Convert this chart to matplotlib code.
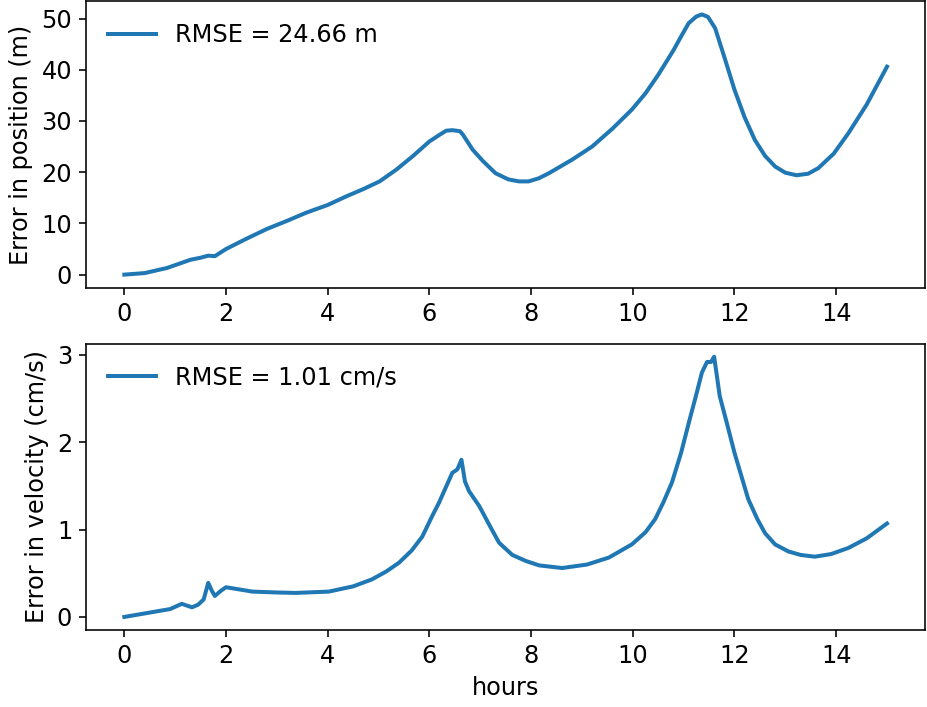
import matplotlib
matplotlib.use("Agg")
import matplotlib.pyplot as plt
import numpy as np

# position error (m) vs time (hours)
t_pos = [0.0, 0.4, 0.84, 1.1, 1.3, 1.5, 1.65, 1.78, 2.0, 2.4, 2.8, 3.2, 3.58, 4.0,
         4.37, 4.7, 5.02, 5.35, 5.67, 6.0, 6.2, 6.33, 6.45, 6.53, 6.6, 6.66, 6.85,
         7.05, 7.3, 7.55, 7.76, 7.95, 8.15, 8.35, 8.8, 9.2, 9.6, 9.98, 10.25, 10.5,
         10.8, 10.95, 11.1, 11.25, 11.36, 11.48, 11.62, 11.8, 12.0, 12.2, 12.4, 12.6,
         12.8, 13.0, 13.22, 13.45, 13.65, 13.95, 14.24, 14.6, 15.0]
err_pos = [0.0, 0.3, 1.3, 2.2, 2.9, 3.3, 3.7, 3.6, 5.0, 7.0, 8.9, 10.5, 12.1, 13.6,
           15.3, 16.7, 18.2, 20.5, 23.1, 26.0, 27.3, 28.1, 28.2, 28.1, 28.0, 27.3, 24.4,
           22.2, 19.8, 18.6, 18.2, 18.2, 18.8, 19.8, 22.4, 25.0, 28.5, 32.2, 35.4, 39.0,
           43.8, 46.5, 49.1, 50.4, 50.8, 50.3, 48.1, 42.5, 36.1, 30.7, 26.3, 23.2, 21.1,
           19.9, 19.4, 19.7, 20.8, 23.6, 27.6, 33.2, 40.6]

# velocity error (cm/s) vs time (hours)
t_vel = [0.0, 0.5, 0.9, 1.13, 1.33, 1.45, 1.56, 1.65, 1.72, 1.78, 1.9, 2.0, 2.52,
         3.0, 3.37, 4.02, 4.5, 4.87, 5.15, 5.4, 5.65, 5.86, 6.05, 6.19, 6.35, 6.45,
         6.55, 6.63, 6.7, 6.78, 6.98, 7.2, 7.37, 7.63, 7.9, 8.16, 8.61, 9.1, 9.53, 9.98,
         10.25, 10.44, 10.6, 10.77, 10.95, 11.1, 11.25, 11.36, 11.46, 11.54, 11.6,
         11.71, 11.85, 12.0, 12.27, 12.45, 12.6, 12.8, 13.06, 13.3, 13.58, 13.9,
         14.24, 14.6, 15.0]
err_vel = [0.0, 0.05, 0.09, 0.15, 0.11, 0.14, 0.2, 0.39, 0.3, 0.24, 0.3, 0.34, 0.29,
           0.28, 0.275, 0.29, 0.35, 0.43, 0.52, 0.62, 0.76, 0.92, 1.15, 1.31, 1.52, 1.65,
           1.69, 1.80, 1.55, 1.44, 1.27, 1.03, 0.85, 0.71, 0.64, 0.59, 0.56, 0.6, 0.68,
           0.83, 0.97, 1.12, 1.31, 1.54, 1.88, 2.22, 2.55, 2.80, 2.92, 2.92, 2.98,
           2.53, 2.22, 1.88, 1.35, 1.12, 0.96, 0.83, 0.75, 0.71, 0.69, 0.72,
           0.79, 0.9, 1.07]

rmse_pos = 24.66
rmse_vel = 1.01
pos_ticks = [0, 10, 20, 30, 40, 50]
vel_ticks = [0, 1, 2, 3]

plt.rcParams['font.size'] = 12

fig, (ax1, ax2) = plt.subplots(2, 1, figsize=(927 / 144, 707 / 144), dpi=144)
fig.subplots_adjust(left=0.093, right=0.998, top=0.998, bottom=0.109, hspace=0.196)

ax1.plot(t_pos, err_pos, lw=2, label=f"RMSE = {rmse_pos:.2f} m")
ax1.set_yticks(pos_ticks)
ax1.set_ylabel("Error in position (m)")
ax1.legend(loc="upper left", frameon=False)

ax2.plot(t_vel, err_vel, lw=2, label=f"RMSE = {rmse_vel:.2f} cm/s")
ax2.set_yticks(vel_ticks)
ax2.set_ylabel("Error in velocity (cm/s)")
ax2.set_xlabel("hours")
ax2.legend(loc="upper left", frameon=False)

plt.savefig("out.png", dpi=144)
plt.close()
